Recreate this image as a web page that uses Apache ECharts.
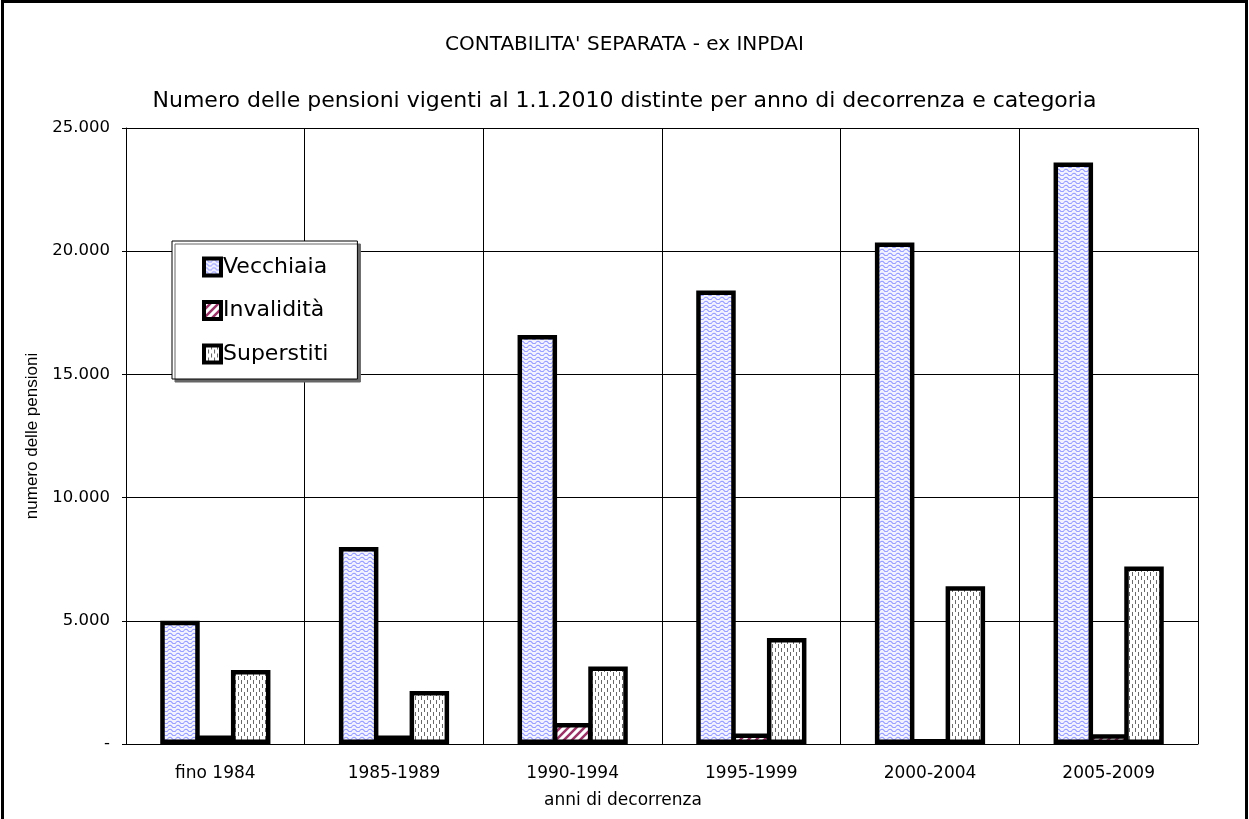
<!DOCTYPE html>
<html>
<head>
<meta charset="utf-8">
<script src="https://cdn.jsdelivr.net/npm/echarts@6/dist/echarts.min.js"></script>
<style>
  html, body { margin: 0; padding: 0; background: #fff; }
  #chart { width: 1249px; height: 819px; }
</style>
</head>
<body>
<div id="chart"></div>
<script>
    // anni di decorrenza
    var categories = ['fino 1984', '1985-1989', '1990-1994', '1995-1999', '2000-2004', '2005-2009'];
    var vecchiaia = [5000, 8000, 16600, 18400, 20350, 23600];
    var invalidita = [340, 350, 850, 430, 200, 400];
    var superstiti = [3000, 2150, 3150, 4300, 6400, 7200];
    var yTicks = { min: 0, max: 25000, interval: 5000 };

    // fill patterns drawn on small canvases
    function makePattern(w, h, draw) {
        var c = document.createElement('canvas');
        c.width = w;
        c.height = h;
        var ctx = c.getContext('2d');
        ctx.fillStyle = '#fff';
        ctx.fillRect(0, 0, w, h);
        draw(ctx);
        return { image: c, repeat: 'repeat' };
    }

    var wavePattern = makePattern(8, 4, function (ctx) {
        ctx.fillStyle = '#f3f3ff';
        ctx.fillRect(0, 0, 8, 4);
        ctx.strokeStyle = '#8f96ff';
        ctx.lineWidth = 1.1;
        ctx.beginPath();
        ctx.moveTo(0, 2.5);
        ctx.quadraticCurveTo(2, 0, 4, 2.5);
        ctx.quadraticCurveTo(6, 5, 8, 2.5);
        ctx.stroke();
    });

    var stripePattern = makePattern(8, 8, function (ctx) {
        ctx.strokeStyle = '#993366';
        ctx.lineWidth = 2.5;
        ctx.beginPath();
        ctx.moveTo(-2, 10); ctx.lineTo(10, -2);
        ctx.moveTo(-6, 6); ctx.lineTo(6, -6);
        ctx.moveTo(2, 14); ctx.lineTo(14, 2);
        ctx.stroke();
    });

    var dashPattern = makePattern(6, 8, function (ctx) {
        ctx.fillStyle = '#6a6a6a';
        ctx.fillRect(1, 0, 1, 4);
        ctx.fillRect(4, 4, 1, 4);
    });

    function fmt(v) {
        if (v === 0) return '-';
        return String(v).replace(/\B(?=(\d{3})+(?!\d))/g, '.');
    }

    var font = 'DejaVu Sans, Verdana, sans-serif';

    // bars overlap by one border width so neighbours share a border
    function barSeries(name, data, fill) {
        return {
            name: name,
            type: 'bar',
            data: data,
            barWidth: 39.5,
            barGap: '-10.5%',
            itemStyle: {
                color: fill,
                borderColor: '#000',
                borderWidth: 4.5
            },
            emphasis: { disabled: true }
        };
    }

    var myChart = echarts.init(document.getElementById('chart'));
    myChart.setOption({
        animation: false,
        backgroundColor: '#fff',
        title: [
            {
                text: "CONTABILITA' SEPARATA - ex INPDAI",
                left: 'center',
                top: 30,
                textStyle: { fontFamily: font, fontSize: 20, fontWeight: 'normal', color: '#000' }
            },
            {
                text: 'Numero delle pensioni vigenti al 1.1.2010 distinte per anno di decorrenza e categoria',
                left: 'center',
                top: 85,
                textStyle: { fontFamily: font, fontSize: 22, fontWeight: 'normal', color: '#000' }
            }
        ],
        graphic: [{
            type: 'rect',
            shape: { x: 2.5, y: 1.5, width: 1244, height: 830 },
            style: { fill: 'none', stroke: '#000', lineWidth: 3 },
            silent: true
        }],
        legend: {
            orient: 'vertical',
            left: 172,
            top: 241,
            padding: [15, 29, 14, 30],
            itemGap: 21.5,
            itemWidth: 17,
            itemHeight: 17,
            icon: 'rect',
            backgroundColor: '#fff',
            borderColor: '#000',
            borderWidth: 1,
            shadowColor: '#666',
            shadowOffsetX: 3,
            shadowOffsetY: 3,
            shadowBlur: 0,
            itemStyle: { borderColor: '#000', borderWidth: 4 },
            textStyle: { fontFamily: font, fontSize: 22, color: '#000', padding: [0, 0, 0, -3] },
            data: ['Vecchiaia', 'Invalidità', 'Superstiti']
        },
        grid: { left: 126, right: 51, top: 128, bottom: 75 },
        xAxis: {
            type: 'category',
            data: categories,
            name: 'anni di decorrenza',
            nameLocation: 'middle',
            nameGap: 48,
            nameTextStyle: { fontFamily: font, fontSize: 17, color: '#000', padding: [0, 78, 0, 0] },
            axisLine: { lineStyle: { color: '#000', width: 1 } },
            axisTick: { show: false },
            axisLabel: { fontFamily: font, fontSize: 17, color: '#000', margin: 21 },
            splitLine: { show: true, interval: 0, lineStyle: { color: '#000', width: 1 } }
        },
        yAxis: {
            type: 'value',
            min: yTicks.min,
            max: yTicks.max,
            interval: yTicks.interval,
            name: 'numero delle pensioni',
            nameLocation: 'middle',
            nameGap: 85,
            nameTextStyle: { fontFamily: 'Liberation Sans, Arial, sans-serif', fontSize: 17, color: '#000' },
            axisLine: { show: true, lineStyle: { color: '#000', width: 1 } },
            axisTick: { show: true, length: 4, lineStyle: { color: '#000' } },
            axisLabel: { fontFamily: font, fontSize: 16.5, color: '#000', margin: 16, formatter: fmt },
            splitLine: { show: true, lineStyle: { color: '#000', width: 1 } }
        },
        series: [
            barSeries('Vecchiaia', vecchiaia, wavePattern),
            barSeries('Invalidità', invalidita, stripePattern),
            barSeries('Superstiti', superstiti, dashPattern)
        ]
    });
</script>
</body>
</html>
